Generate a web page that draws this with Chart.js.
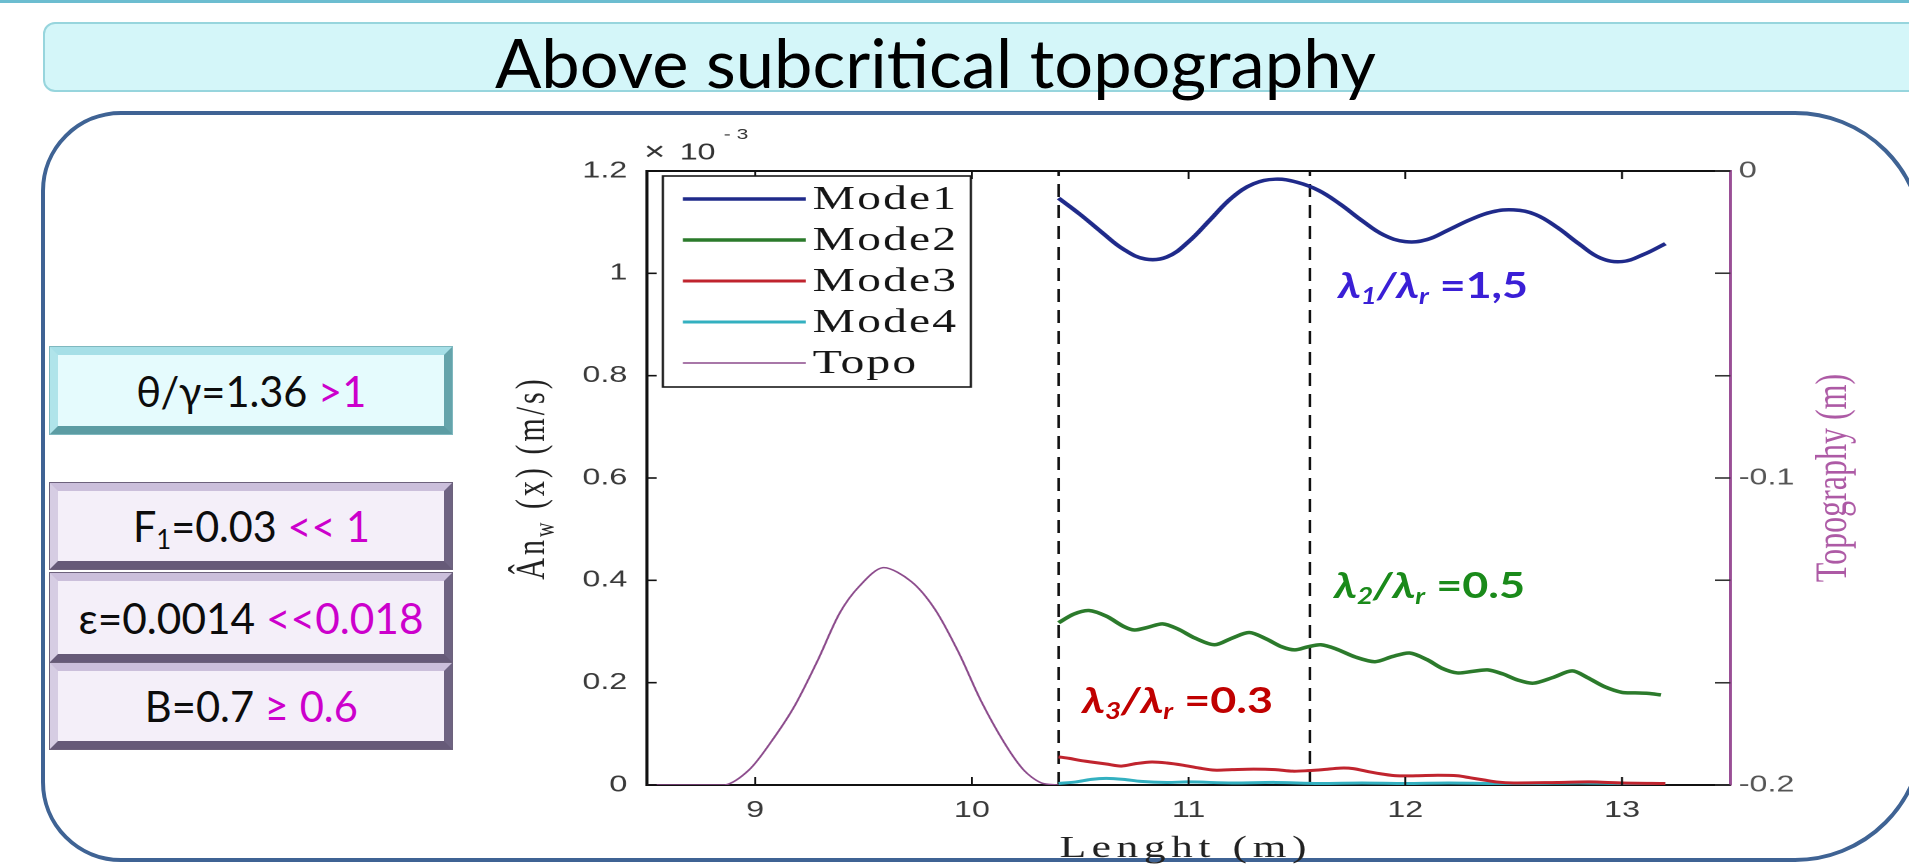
<!DOCTYPE html>
<html><head><meta charset="utf-8">
<script src="https://cdn.jsdelivr.net/npm/chart.js@4.4.1/dist/chart.umd.min.js"></script>
<style>
html,body{margin:0;padding:0;background:#fff;}
body{width:1909px;height:864px;overflow:hidden;position:relative;font-family:Lato,'Open Sans',sans-serif;}
.abs{position:absolute;}
#topline{left:0;top:0;width:1909px;height:3px;background:#6cbdd0;}
#titlebox{left:43px;top:22px;width:1900px;height:70px;background:#d4f6f9;border:2px solid #97d5dd;border-radius:12px;box-sizing:border-box;}
#title{font-size:67px;line-height:1;white-space:nowrap;color:#000;transform-origin:0 0;}
#mainbox{left:41px;top:111px;width:1884px;height:751px;border:4px solid #3f6394;border-radius:80px 130px 130px 80px;box-sizing:border-box;}
.pbox{left:50px;width:402px;box-sizing:border-box;border:8px solid;display:flex;align-items:center;justify-content:center;font-size:42px;color:#0c0c0c;}
.cyan{background:#e5fbfd;border-color:#a6dfe7 #65a4ab #5c9ca3 #b0e4ea;outline:1px solid #7fb8bf;}
.lav{background:#f4eff9;border-color:#cbbfdb #6e6382 #665a78 #d6cde3;outline:1px solid #6d627c;}
.pbox > span{white-space:nowrap;display:inline-block;transform-origin:50% 50%;}
.mg{color:#cc00cc;}
sub{font-size:0.62em;vertical-align:-0.28em;line-height:0;}
#wrap{left:0;top:0;width:1364px;height:864px;transform:scaleX(1.4);transform-origin:0 0;}
.ann{font-weight:700;font-size:36px;line-height:1;white-space:nowrap;transform-origin:0 0;}
</style></head>
<body>
<div id="topline" class="abs"></div>
<div id="titlebox" class="abs"></div>
<div id="title" class="abs fit" data-w="881" style="left:495px;top:29px">Above subcritical topography</div>
<div id="mainbox" class="abs"></div>

<div class="abs pbox cyan" style="top:347px;height:87px"><span class="fit" data-w="230">θ/γ=1.36 <span class="mg">&gt;1</span></span></div>
<div class="abs pbox lav" style="top:483px;height:86px"><span class="fit" data-w="237">F<sub>1</sub>=0.03 <span class="mg">&lt;&lt; 1</span></span></div>
<div class="abs pbox lav" style="top:573px;height:89px"><span class="fit" data-w="345">ε=0.0014 <span class="mg">&lt;&lt;0.018</span></span></div>
<div class="abs pbox lav" style="top:663px;height:86px"><span class="fit" data-w="213">B=0.7 <span class="mg">≥ 0.6</span></span></div>

<div id="wrap" class="abs"><canvas id="c" width="1364" height="864"></canvas></div>

<div class="abs ann fit" data-w="190" style="left:1338px;top:266px;color:#3a1fd6"><i>λ<sub>1</sub>/λ<sub>r</sub></i> =1,5</div>
<div class="abs ann fit" data-w="191" style="left:1334px;top:566px;color:#1a8a1a"><i>λ<sub>2</sub>/λ<sub>r</sub></i> =0.5</div>
<div class="abs ann fit" data-w="191" style="left:1082px;top:681px;color:#c00000"><i>λ<sub>3</sub>/λ<sub>r</sub></i> =0.3</div>

<script>
// ---------- data ----------
const xTicks = [9, 10, 11, 12, 13];
const xTickLabels = ['9', '10', '11', '12', '13'];
const yTicks = [0, 0.2, 0.4, 0.6, 0.8, 1, 1.2];            // ×10^-3 m/s
const yTickLabels = ['0', '0.2', '0.4', '0.6', '0.8', '1', '1.2'];
const topoTicks = [-0.2, -0.1667, -0.1333, -0.1, -0.0667, -0.0333, 0];
const topoTickLabels = ['-0.2', '', '', '-0.1', '', '', '0'];
const seriesNames = ['Mode1', 'Mode2', 'Mode3', 'Mode4', 'Topo'];

const mode1X = [10.4,10.5,10.6,10.7,10.8,10.9,11.0,11.1,11.2,11.3,11.4,11.5,11.6,11.7,11.8,11.9,12.0,12.1,12.2,12.3,12.4,12.5,12.6,12.7,12.8,12.9,13.0,13.1,13.2];
const mode1Y = [1.147,1.115,1.080,1.047,1.028,1.032,1.062,1.105,1.148,1.175,1.184,1.178,1.162,1.135,1.103,1.075,1.062,1.066,1.085,1.105,1.120,1.124,1.115,1.090,1.058,1.030,1.023,1.037,1.058];

const mode2X = [10.40,10.47,10.54,10.62,10.70,10.75,10.81,10.88,10.95,11.03,11.12,11.20,11.28,11.36,11.43,11.49,11.55,11.61,11.68,11.77,11.86,11.94,12.02,12.10,12.17,12.24,12.31,12.38,12.45,12.52,12.59,12.68,12.77,12.84,12.92,13.00,13.06,13.12,13.18];
const mode2Y = [0.317,0.334,0.341,0.330,0.310,0.303,0.308,0.315,0.305,0.287,0.274,0.287,0.298,0.285,0.270,0.264,0.270,0.274,0.266,0.250,0.241,0.251,0.258,0.245,0.228,0.219,0.222,0.225,0.217,0.205,0.199,0.210,0.223,0.210,0.192,0.181,0.180,0.179,0.176];

const mode3X = [10.40,10.45,10.50,10.55,10.62,10.69,10.76,10.83,10.90,10.97,11.05,11.12,11.20,11.30,11.40,11.48,11.55,11.62,11.70,11.76,11.83,11.90,11.96,12.05,12.15,12.24,12.30,12.36,12.42,12.50,12.70,12.85,13.00,13.20];
const mode3Y = [0.055,0.052,0.048,0.045,0.041,0.037,0.042,0.045,0.043,0.039,0.033,0.029,0.030,0.031,0.030,0.027,0.028,0.030,0.033,0.032,0.026,0.021,0.018,0.018,0.019,0.018,0.014,0.010,0.006,0.004,0.005,0.006,0.004,0.003];

const mode4X = [10.40,10.48,10.55,10.62,10.70,10.78,10.90,11.00,11.20,11.40,11.60,11.80,12.00,12.20,12.40,12.60,12.80,13.00,13.20];
const mode4Y = [0.003,0.006,0.011,0.013,0.011,0.007,0.005,0.006,0.004,0.005,0.003,0.004,0.003,0.004,0.003,0.003,0.004,0.003,0.003];

const topoX = [8.50,8.86,8.97,9.07,9.18,9.29,9.39,9.48,9.59,9.72,9.83,9.94,10.04,10.15,10.24,10.32,10.40];
const topoY = [-0.2,-0.2,-0.1952,-0.1863,-0.1745,-0.1592,-0.1440,-0.1353,-0.1292,-0.1337,-0.1428,-0.1570,-0.1723,-0.1863,-0.1952,-0.1993,-0.2];

const dashX = [10.40, 11.56];
const dashY = [0, 1.2];

// ---------- helpers ----------
const zip = (xs, ys) => xs.map((x, i) => ({ x: x, y: ys[i] }));

const frameTicks = {
  id: 'frameTicks',
  afterDatasetsDraw(chart) {
    const { ctx, chartArea: a, scales } = chart;
    ctx.save();
    ctx.strokeStyle = '#111';
    ctx.lineWidth = 2;
    ctx.beginPath(); ctx.moveTo(a.left, a.top); ctx.lineTo(a.right, a.top); ctx.stroke();
    ctx.lineWidth = 1.4;
    scales.x.ticks.forEach(t => {
      const p = scales.x.getPixelForValue(t.value);
      ctx.beginPath();
      ctx.moveTo(p, a.bottom); ctx.lineTo(p, a.bottom - 8);
      ctx.moveTo(p, a.top); ctx.lineTo(p, a.top + 8);
      ctx.stroke();
    });
    ctx.lineWidth = 1.6;
    scales.y.ticks.forEach(t => {
      const p = scales.y.getPixelForValue(t.value);
      ctx.beginPath(); ctx.moveTo(a.left, p); ctx.lineTo(a.left + 7, p); ctx.stroke();
    });
    ctx.strokeStyle = '#333';
    scales.y2.ticks.forEach(t => {
      const p = scales.y2.getPixelForValue(t.value);
      ctx.beginPath(); ctx.moveTo(a.right, p); ctx.lineTo(a.right - 11, p); ctx.stroke();
    });
    ctx.restore();
  }
};

const legendPlugin = {
  id: 'modeLegend',
  afterDraw(chart) {
    const ctx = chart.ctx, a = chart.chartArea;
    const L = a.left + 11.5, T = a.top + 5, W = 220, H = 211;
    ctx.save();
    ctx.fillStyle = '#fff'; ctx.fillRect(L, T, W, H);
    ctx.strokeStyle = '#1a1a1a'; ctx.lineWidth = 1.6; ctx.strokeRect(L, T, W, H);
    ctx.font = '34px "Liberation Serif"';
    ctx.letterSpacing = '1.5px';
    ctx.textBaseline = 'middle';
    ctx.textAlign = 'left';
    chart.data.datasets.filter(d => seriesNames.includes(d.label)).forEach((d, i) => {
      const y = T + 23 + i * 41;
      ctx.strokeStyle = d.borderColor; ctx.lineWidth = d.borderWidth; ctx.setLineDash([]);
      ctx.beginPath(); ctx.moveTo(L + 14.3, y); ctx.lineTo(L + 102, y); ctx.stroke();
      ctx.fillStyle = '#151515';
      ctx.fillText(d.label, L + 107, y + 1);
    });
    ctx.restore();
  }
};

const textPlugin = {
  id: 'axisTexts',
  afterDraw(chart) {
    const ctx = chart.ctx, a = chart.chartArea;
    const cy = (a.top + a.bottom) / 2;
    ctx.save();
    // multiplier
    ctx.fillStyle = '#333';
    ctx.textAlign = 'left'; ctx.textBaseline = 'middle';
    ctx.font = '26px "Liberation Sans"';
    ctx.fillText('×', a.left - 2, a.top - 18);
    ctx.font = '23px "Liberation Sans"';
    ctx.fillText('10', a.left + 23.5, a.top - 18);
    ctx.font = '15px "Liberation Sans"';
    ctx.fillText('- 3', a.left + 55, a.top - 36);
    // x title
    ctx.fillStyle = '#222';
    ctx.font = '31px "Liberation Serif"';
    ctx.letterSpacing = '4px';
    ctx.textAlign = 'center'; ctx.textBaseline = 'alphabetic';
    ctx.fillText('Lenght (m)', (a.left + a.right) / 2 - 2, 857);
    // left title  Ân_w (x) (m/s)
    ctx.letterSpacing = '3px';
    ctx.textAlign = 'left';
    ctx.font = '30px "Liberation Serif"';
    const p1 = 'Ân', p3 = ' (x) (m/s)';
    const w1 = ctx.measureText(p1).width, w3 = ctx.measureText(p3).width;
    ctx.font = '20px "Liberation Serif"';
    const w2 = ctx.measureText('w').width;
    const tot = w1 + w2 + w3;
    ctx.save();
    ctx.translate(a.left - 73.5, cy + tot / 2);
    ctx.rotate(-Math.PI / 2);
    ctx.font = '30px "Liberation Serif"'; ctx.fillText(p1, 0, 0);
    ctx.font = '20px "Liberation Serif"'; ctx.fillText('w', w1, 7);
    ctx.font = '30px "Liberation Serif"'; ctx.fillText(p3, w1 + w2, 0);
    ctx.restore();
    // right title
    ctx.letterSpacing = '0px';
    ctx.save();
    ctx.translate(a.right + 74, cy);
    ctx.rotate(-Math.PI / 2);
    ctx.textAlign = 'center'; ctx.textBaseline = 'middle';
    ctx.fillStyle = '#ad5aa5';
    ctx.font = '32px "Liberation Serif"';
    ctx.fillText('Topography (m)', 0, 0);
    ctx.restore();
    ctx.restore();
  }
};

const tickFont = { family: 'Liberation Sans', size: 23 };

new Chart(document.getElementById('c'), {
  type: 'line',
  data: {
    datasets: [
      { label: 'Mode1', data: zip(mode1X, mode1Y), borderColor: '#1f2a8a', borderWidth: 3.5, tension: 0.4, yAxisID: 'y' },
      { label: 'Mode2', data: zip(mode2X, mode2Y), borderColor: '#2b7a2b', borderWidth: 3.5, tension: 0.3, yAxisID: 'y' },
      { label: 'Mode3', data: zip(mode3X, mode3Y), borderColor: '#c0242e', borderWidth: 3, tension: 0.3, yAxisID: 'y' },
      { label: 'Mode4', data: zip(mode4X, mode4Y), borderColor: '#33b0c0', borderWidth: 3, tension: 0.3, yAxisID: 'y' },
      { label: 'Topo', data: zip(topoX, topoY), borderColor: '#8b4a8b', borderWidth: 1.5, tension: 0.3, yAxisID: 'y2' },
      { label: 'dashA', data: zip([dashX[0], dashX[0]], dashY), borderColor: '#111', borderWidth: 1.8, borderDash: [13, 8], yAxisID: 'y' },
      { label: 'dashB', data: zip([dashX[1], dashX[1]], dashY), borderColor: '#111', borderWidth: 1.8, borderDash: [13, 8], yAxisID: 'y' }
    ]
  },
  options: {
    responsive: false,
    animation: false,
    devicePixelRatio: 2,
    elements: { point: { radius: 0 } },
    layout: { padding: { left: 402, right: 68, top: 171, bottom: 34 } },
    plugins: { legend: { display: false }, tooltip: { enabled: false } },
    scales: {
      x: {
        type: 'linear', position: 'bottom', min: 8.5, max: 13.5,
        afterBuildTicks: s => { s.ticks = xTicks.map(v => ({ value: v })); },
        afterFit: s => { s.height = 45; },
        ticks: { callback: (v, i) => xTickLabels[i], font: tickFont, color: '#3a3a3a', padding: 12, maxRotation: 0, autoSkip: false },
        grid: { display: false, drawTicks: false },
        border: { color: '#111', width: 2 }
      },
      y: {
        type: 'linear', position: 'left', min: 0, max: 1.2,
        afterBuildTicks: s => { s.ticks = yTicks.map(v => ({ value: v })); },
        afterFit: s => { s.width = 60; },
        ticks: { callback: (v, i) => yTickLabels[i], font: tickFont, color: '#3a3a3a', padding: 14, autoSkip: false },
        grid: { display: false, drawTicks: false },
        border: { color: '#111', width: 2.2 }
      },
      y2: {
        type: 'linear', position: 'right', min: -0.2, max: 0,
        afterBuildTicks: s => { s.ticks = topoTicks.map(v => ({ value: v })); },
        afterFit: s => { s.width = 60; },
        ticks: { callback: (v, i) => topoTickLabels[i], font: tickFont, color: '#555', padding: 6, autoSkip: false },
        grid: { display: false, drawTicks: false },
        border: { color: '#9a4f96', width: 2 }
      }
    }
  },
  plugins: [frameTicks, legendPlugin, textPlugin]
});

// fit overlay texts to their measured widths
function fitAll() {
  document.querySelectorAll('.fit').forEach(el => {
    el.style.transform = 'none';
    const w = el.getBoundingClientRect().width;
    if (w > 0) el.style.transform = 'scaleX(' + (parseFloat(el.dataset.w) / w) + ')';
  });
}
fitAll();
if (document.fonts && document.fonts.ready) document.fonts.ready.then(fitAll);
</script>
</body></html>
